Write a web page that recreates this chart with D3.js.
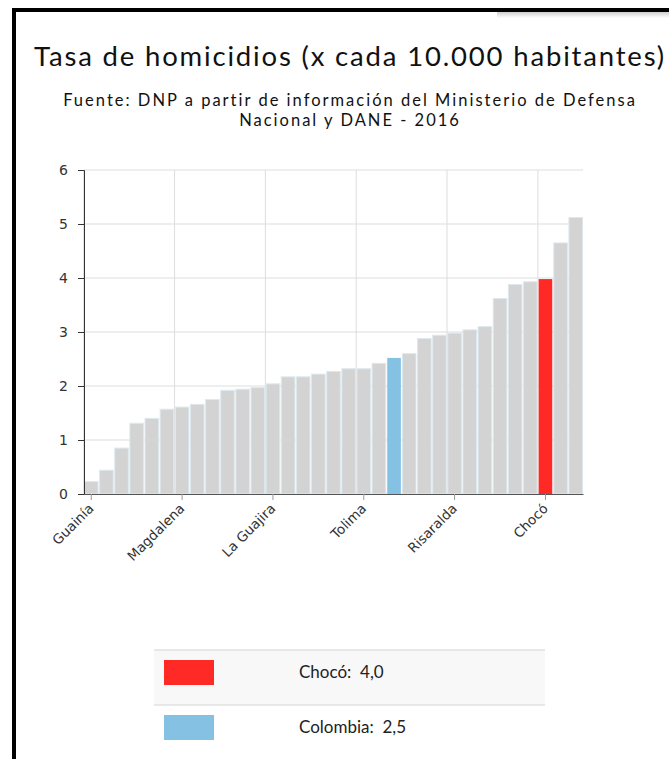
<!DOCTYPE html>
<html lang="es">
<head>
  <meta charset="utf-8">
  <title>Tasa de homicidios</title>
  <script src="https://d3js.org/d3.v7.min.js"></script>
  <style>
    body { margin: 0; background: #fff; }
    #marco {
      position: absolute; left: 12px; top: 8px; width: 700px; height: 800px;
      border-left: 4px solid #000; border-top: 4px solid #000;
    }
    #sombra {
      position: absolute; left: 497px; top: 12px; width: 180px; height: 6px;
      background: linear-gradient(#cfcfcf, #fff);
    }
    #chart { position: absolute; left: 0; top: 0; }
    .titulo { font-family: Lato, sans-serif; fill: #111; }
    .grid line { stroke: #ddd; stroke-width: 1; }
    .leyenda text { font-family: Lato, sans-serif; font-size: 17px; fill: #222; }
  </style>
</head>
<body>
  <div id="marco"></div>
  <div id="sombra"></div>
  <div id="chart"></div>

  <script>
    "use strict"

    // departamentos ordenados por tasa (x cada 10.000 hab.)
    var departamentos = ["Guainía", "Vaupés", "Boyacá", "Amazonas", "Cundinamarca", "Nariño",
      "Magdalena", "Sucre", "Santander", "Bolívar", "Huila", "Córdoba",
      "La Guajira", "Atlántico", "Bogotá D.C.", "Cesar", "San Andrés", "Caldas",
      "Tolima", "Norte de Santander", "Colombia", "Antioquia", "Casanare", "Vichada",
      "Risaralda", "Meta", "Caquetá", "Guaviare", "Quindío", "Putumayo",
      "Chocó", "Cauca", "Valle del Cauca"];
    var tasas = [0.23, 0.44, 0.85, 1.31, 1.40, 1.57,
      1.61, 1.66, 1.75, 1.92, 1.94, 1.97,
      2.04, 2.17, 2.17, 2.22, 2.27, 2.32,
      2.32, 2.42, 2.52, 2.60, 2.88, 2.94,
      2.98, 3.04, 3.10, 3.62, 3.88, 3.93,
      3.98, 4.65, 5.12];
    var etiquetasX = ["Guainía", "Magdalena", "La Guajira", "Tolima", "Risaralda", "Chocó"];
    var ticksY = [0, 1, 2, 3, 4, 5, 6];
    var destacados = ["Chocó", "Colombia"];
    var coloresDestacados = ["#ff2a26", "#85c1e3"];

    var titulo = "Tasa de homicidios (x cada 10.000 habitantes)";
    var fuente = ["Fuente: DNP a partir de información del Ministerio de Defensa",
                  "Nacional y DANE - 2016"];

    var dados = departamentos.map((d, i) => ({ nombre: d, tasa: tasas[i] }));
    var colorDe = d => {
      var k = destacados.indexOf(d);
      return k >= 0 ? coloresDestacados[k] : "#d3d3d3";
    };
    var fmt = d3.formatLocale({ decimal: ",", thousands: ".", grouping: [3], currency: ["$", ""] }).format(".1f");

    var larguraSVG = 669, alturaSVG = 759;
    var margin = { top: 170, right: 86, bottom: 265, left: 84 },
        larguraVis = larguraSVG - margin.left - margin.right,
        alturaVis = alturaSVG - margin.top - margin.bottom;

    var svg = d3.select("#chart").append("svg")
        .attr("width", larguraSVG)
        .attr("height", alturaSVG);

    // titulo y fuente: tamaño fijo, espaciado ajustado al ancho del original
    function texto(t, y, size, ancho) {
      var el = svg.append("text").attr("class", "titulo")
        .attr("x", 350).attr("y", y)
        .attr("text-anchor", "middle")
        .style("font-size", size + "px")
        .text(t);
      var w = el.node().getComputedTextLength();
      el.style("letter-spacing", Math.max(0, (ancho - w) / t.length) + "px");
      return el;
    }
    texto(titulo, 66, 27.5, 632);
    var sp = texto(fuente[0], 106, 16.5, 574).style("letter-spacing");
    svg.append("text").attr("class", "titulo")
        .attr("x", 350).attr("y", 126)
        .attr("text-anchor", "middle")
        .style("font-size", "16.5px")
        .style("letter-spacing", sp)
        .text(fuente[1]);

    var grafico = svg.append("g")
        .attr("transform", "translate(" + margin.left + "," + margin.top + ")");

    var xScale = d3.scaleBand()
        .domain(departamentos)
        .range([0, larguraVis])
        .paddingInner(0.1)
        .paddingOuter(0.03);

    var yScale = d3.scaleLinear()
        .domain([0, 6])
        .range([alturaVis, 0]);

    // grilla
    var grid = grafico.append("g").attr("class", "grid");
    grid.selectAll(".h").data(ticksY).enter().append("line")
        .attr("x1", 0).attr("x2", larguraVis)
        .attr("y1", d => yScale(d)).attr("y2", d => yScale(d));
    grid.selectAll(".v").data(etiquetasX).enter().append("line")
        .attr("x1", d => xScale(d) - xScale.step() * xScale.paddingInner() / 2)
        .attr("x2", d => xScale(d) - xScale.step() * xScale.paddingInner() / 2)
        .attr("y1", 0).attr("y2", alturaVis);

    // barras
    grafico.selectAll("rect")
        .data(dados)
        .enter()
          .append("rect")
            .attr("x", d => xScale(d.nombre))
            .attr("y", d => yScale(d.tasa))
            .attr("width", xScale.bandwidth())
            .attr("height", d => alturaVis - yScale(d.tasa))
            .attr("fill", d => colorDe(d.nombre))
            .attr("stroke", d => destacados.indexOf(d.nombre) >= 0 ? "none" : "#dde9ef")
            .attr("stroke-width", 1);

    // ejes
    var ejeX = grafico.append("g")
        .attr("transform", "translate(0," + alturaVis + ")")
        .call(d3.axisBottom(xScale).tickValues(etiquetasX).tickSizeOuter(0));
    ejeX.select(".domain").attr("stroke", "#555");
    ejeX.selectAll(".tick line").attr("stroke", "#999");
    ejeX.selectAll("text")
        .attr("font-family", "'DejaVu Sans', Verdana, sans-serif")
        .attr("font-size", 13.5)
        .attr("fill", "#333")
        .attr("text-anchor", "end")
        .attr("x", 0).attr("y", 0)
        .attr("dy", "0.35em")
        .attr("transform", "translate(0,12) rotate(-45)");

    var ejeY = grafico.append("g")
        .call(d3.axisLeft(yScale).tickValues(ticksY).tickFormat(d3.format("d")).tickPadding(10));
    ejeY.select(".domain").attr("stroke", "#333");
    ejeY.selectAll(".tick line").attr("stroke", "#333");
    ejeY.selectAll("text")
        .attr("font-family", "'DejaVu Sans', Verdana, sans-serif")
        .attr("font-size", 14)
        .attr("fill", "#333");

    // leyenda
    var leyenda = svg.append("g").attr("class", "leyenda")
        .attr("transform", "translate(154,650)");
    var filas = leyenda.selectAll("g").data(destacados).enter().append("g")
        .attr("transform", (d, i) => "translate(0," + (i * 55) + ")");
    filas.append("rect")
        .attr("width", 391).attr("height", 55)
        .attr("fill", (d, i) => i % 2 === 0 ? "#f8f8f8" : "#fff");
    filas.append("line")
        .attr("x1", 0).attr("x2", 391).attr("y1", 0).attr("y2", 0)
        .attr("stroke", "#e2e2e2").attr("stroke-width", 1.5);
    filas.append("rect")
        .attr("x", 10).attr("y", 10).attr("width", 50).attr("height", 25)
        .attr("fill", (d, i) => coloresDestacados[i]);
    filas.append("text")
        .attr("x", 145).attr("y", 28)
        .attr("xml:space", "preserve")
        .text(d => d + ":  " + fmt(tasas[departamentos.indexOf(d)]));
  </script>
</body>
</html>
